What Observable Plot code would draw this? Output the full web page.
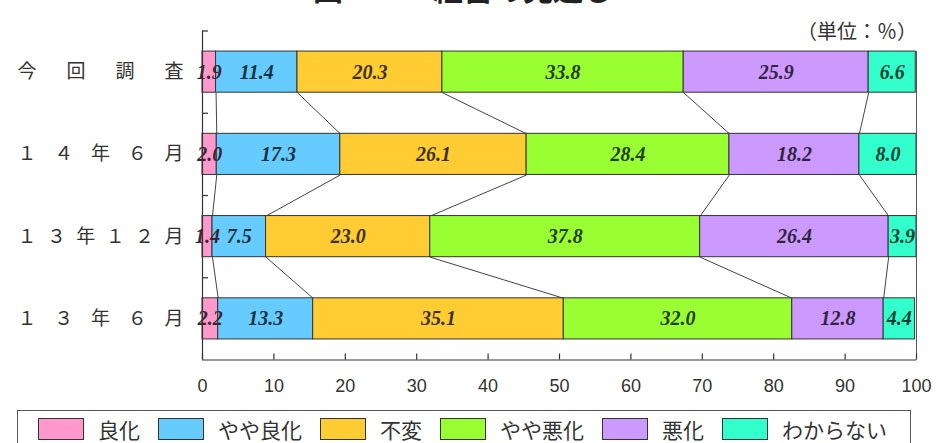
<!DOCTYPE html>
<html>
<head>
<meta charset="utf-8">
<script src="https://cdn.jsdelivr.net/npm/d3@7"></script>
<script src="https://cdn.jsdelivr.net/npm/@observablehq/plot@0.6"></script>
<style>
  html, body { margin: 0; padding: 0; background: #fff; }
  #wrap { position: relative; width: 939px; height: 443px; overflow: hidden; font-family: "Noto Sans CJK JP", sans-serif; color: #333; }
  #title { position: absolute; left: 313px; top: -28px; font-size: 30px; line-height: 30px; font-weight: bold; color: #222; white-space: nowrap; }
  #unit { position: absolute; right: 22px; top: 21px; font-size: 20px; line-height: 20px; color: #333; white-space: nowrap; }
  #chart { position: absolute; left: 0; top: 0; }
  #legend { position: absolute; left: 17px; top: 410px; width: 894px; height: 44px; border: 1.5px solid #555; box-sizing: border-box; display: flex; align-items: flex-start; padding: 6px 0 0 20px; }
  .item { display: flex; align-items: center; margin-right: 18px; }
  .sw { width: 46px; height: 22px; box-sizing: border-box; border: 1.5px solid #333; margin-right: 14px; }
  .lab { font-size: 21px; line-height: 24px; white-space: nowrap; color: #333; }
</style>
</head>
<body>
<div id="wrap">
  <div id="title">図－５　経営の見通し</div>
  <div id="unit">（単位：％）</div>
  <div id="chart"></div>
  <div id="legend"></div>
</div>
<script>
// ---- data ----
const rowLabels = ["今回調査", "１４年６月", "１３年１２月", "１３年６月"];
const categories = ["良化", "やや良化", "不変", "やや悪化", "悪化", "わからない"];
const colors = ["#ff99cc", "#66ccff", "#ffcc33", "#99ff33", "#cc99ff", "#33ffcc"];
const konkai = [1.9, 11.4, 20.3, 33.8, 25.9, 6.6];
const h14_6  = [2.0, 17.3, 26.1, 28.4, 18.2, 8.0];
const h13_12 = [1.4, 7.5, 23.0, 37.8, 26.4, 3.9];
const h13_6  = [2.2, 13.3, 35.1, 32.0, 12.8, 4.4];
const xTicks = [0, 10, 20, 30, 40, 50, 60, 70, 80, 90, 100];

const series = [konkai, h14_6, h13_12, h13_6];

// ---- derived tables ----
const segs = [];
series.forEach((vals, r) => {
  let cum = 0;
  vals.forEach((v, k) => {
    segs.push({r, k, cat: categories[k], value: v, x1: cum, x2: cum + v});
    cum += v;
  });
});
const half = 0.25; // half bar thickness in row units
const links = [];
for (let r = 0; r < series.length - 1; r++) {
  for (let k = 0; k < categories.length - 1; k++) {
    const a = segs.find(d => d.r === r && d.k === k);
    const b = segs.find(d => d.r === r + 1 && d.k === k);
    links.push({x1: a.x2, y1: r + half, x2: b.x2, y2: r + 1 - half});
  }
}
const boundaries = d3.range(-0.5, series.length - 0.5, 1);

const W = 939, H = 400, mL = 202, mR = 23, mT = 30.5, mB = 40.5;
const innerH = H - mT - mB;
const innerW = W - mL - mR;

const chart = Plot.plot({
  width: W, height: H,
  marginLeft: mL, marginRight: mR, marginTop: mT, marginBottom: mB,
  x: {domain: [0, 100]},
  y: {domain: [-0.5, series.length - 0.5], reverse: true, axis: null},
  style: {background: "transparent", overflow: "visible", fontFamily: "'Liberation Sans', Arial, sans-serif", color: "#333"},
  marks: [
    Plot.link(links, {x1: "x1", y1: "y1", x2: "x2", y2: "y2", stroke: "#444", strokeWidth: 1}),
    Plot.rect(segs, {
      x1: "x1", x2: "x2",
      y1: d => d.r - half, y2: d => d.r + half,
      fill: d => colors[d.k], stroke: "#333", strokeWidth: 1
    }),
    Plot.text(segs, {
      x: d => (d.x1 + d.x2) / 2, y: "r",
      text: d => d.value.toFixed(1),
      fill: d => d3.color(colors[d.k]).darker(4).formatHex(),
      fontFamily: "'Liberation Serif', 'Times New Roman', serif",
      fontWeight: "bold", fontStyle: "italic", fontSize: 20
    }),
    Plot.ruleX([0], {stroke: "#333", strokeWidth: 1.2}),
    Plot.ruleX([100], {insetTop: innerH / series.length * half, stroke: "#555"}),
    Plot.ruleY([series.length - 0.5], {stroke: "#333", strokeWidth: 1.2}),
    Plot.ruleX(xTicks, {insetTop: innerH - 6, stroke: "#333", strokeWidth: 1.2}),
    Plot.tickY(boundaries, {insetRight: innerW - 6, stroke: "#333", strokeWidth: 1.2}),
    Plot.axisX({ticks: xTicks, tickSize: 0, tickPadding: 19, fontSize: 18, label: null, tickFormat: d => String(d)}),
    Plot.text(rowLabels, {
      x: 0, y: (d, i) => i, dx: -185, textAnchor: "start",
      fontFamily: "'Noto Sans CJK JP', sans-serif", fontSize: 19, fill: "#333"
    })
  ]
});
document.getElementById("chart").appendChild(chart);
chart.querySelectorAll("text").forEach(t => {
  if (rowLabels.includes(t.textContent)) {
    t.setAttribute("textLength", "166");
    t.setAttribute("lengthAdjust", "spacing");
  }
});

// ---- legend ----
const legend = document.getElementById("legend");
categories.forEach((c, k) => {
  const item = document.createElement("div");
  item.className = "item";
  const sw = document.createElement("div");
  sw.className = "sw";
  sw.style.background = colors[k];
  const lab = document.createElement("span");
  lab.className = "lab";
  lab.textContent = c;
  item.appendChild(sw);
  item.appendChild(lab);
  legend.appendChild(item);
});
</script>
</body>
</html>
